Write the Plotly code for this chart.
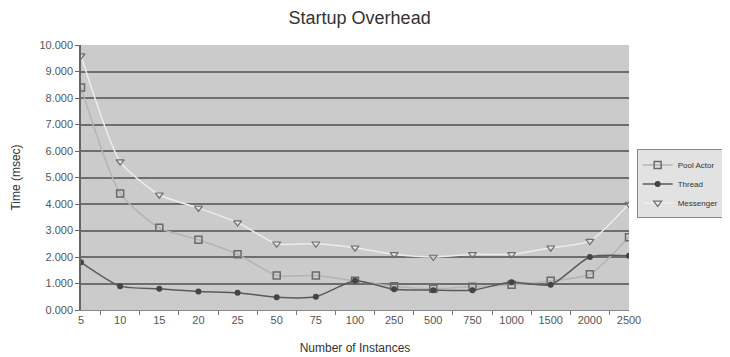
import plotly.graph_objects as go

categories = ["5", "10", "15", "20", "25", "50", "75", "100", "250", "500", "750", "1000", "1500", "2000", "2500"]
pool_actor = [8.40, 4.40, 3.10, 2.65, 2.10, 1.30, 1.30, 1.10, 0.90, 0.80, 0.88, 0.95, 1.10, 1.35, 2.75]
thread = [1.80, 0.90, 0.80, 0.70, 0.65, 0.48, 0.50, 1.10, 0.78, 0.75, 0.75, 1.05, 0.95, 2.00, 2.05]
messenger = [9.60, 5.60, 4.35, 3.85, 3.30, 2.50, 2.50, 2.35, 2.10, 2.00, 2.10, 2.10, 2.35, 2.60, 4.00]
y_ticks = [0, 1, 2, 3, 4, 5, 6, 7, 8, 9, 10]

font = "Liberation Sans, Arial, sans-serif"

fig = go.Figure()
fig.add_trace(go.Scatter(
    x=categories, y=pool_actor, name="Pool Actor", mode="lines+markers",
    line=dict(color="#b4b4b4", width=1.5, shape="spline", smoothing=0.6),
    marker=dict(symbol="square-open", size=7, color="#6a6a6a", line=dict(width=1.5)),
))
fig.add_trace(go.Scatter(
    x=categories, y=thread, name="Thread", mode="lines+markers",
    line=dict(color="#5a5a5a", width=1.5, shape="spline", smoothing=0.6),
    marker=dict(symbol="circle", size=6, color="#444444"),
))
fig.add_trace(go.Scatter(
    x=categories, y=messenger, name="Messenger", mode="lines+markers",
    line=dict(color="#ececec", width=1.5, shape="spline", smoothing=0.6),
    marker=dict(symbol="triangle-down-open", size=7, color="#707070", line=dict(width=1.2)),
))

# page body has an 8px default margin, so the figure is sized 722x349
fig.update_layout(
    width=722, height=349,
    margin=dict(l=73, r=101, t=37, b=47, autoexpand=False),
    paper_bgcolor="white", plot_bgcolor="#cbcbcb",
    font=dict(family=font, color="#444444"),
    title=dict(text="Startup Overhead", x=0.487, xanchor="center", y=0.972, yanchor="middle",
               font=dict(size=18, color="#333333", family=font)),
    showlegend=True,
    legend=dict(x=1.014, y=0.606, xanchor="left", yanchor="top",
                bgcolor="#e2e2e2", bordercolor="#888888", borderwidth=1,
                font=dict(size=8, color="#333333", family=font),
                tracegroupgap=0, itemwidth=30),
)
fig.update_xaxes(
    type="category", range=[0, 14], tickson="boundaries", automargin=False,
    ticks="outside", ticklen=4, tickcolor="#777777",
    showline=True, linecolor="#888888", linewidth=1,
    showgrid=False, zeroline=False,
    tickfont=dict(size=11, color="#555555"),
    title=dict(text="Number of Instances", font=dict(size=12, color="#333333"), standoff=18),
)
fig.update_yaxes(
    range=[0, 10], tickvals=y_ticks, tickformat=".3f", automargin=False,
    ticks="outside", ticklen=4, tickcolor="#666666",
    showline=True, linecolor="#666666", linewidth=1.5,
    showgrid=True, gridcolor="#6e6e6e", gridwidth=1.5, zeroline=False,
    tickfont=dict(size=11, color="#555555"),
    title=dict(text="Time (msec)", font=dict(size=12, color="#333333"), standoff=16),
)

fig.write_html("out.html")
